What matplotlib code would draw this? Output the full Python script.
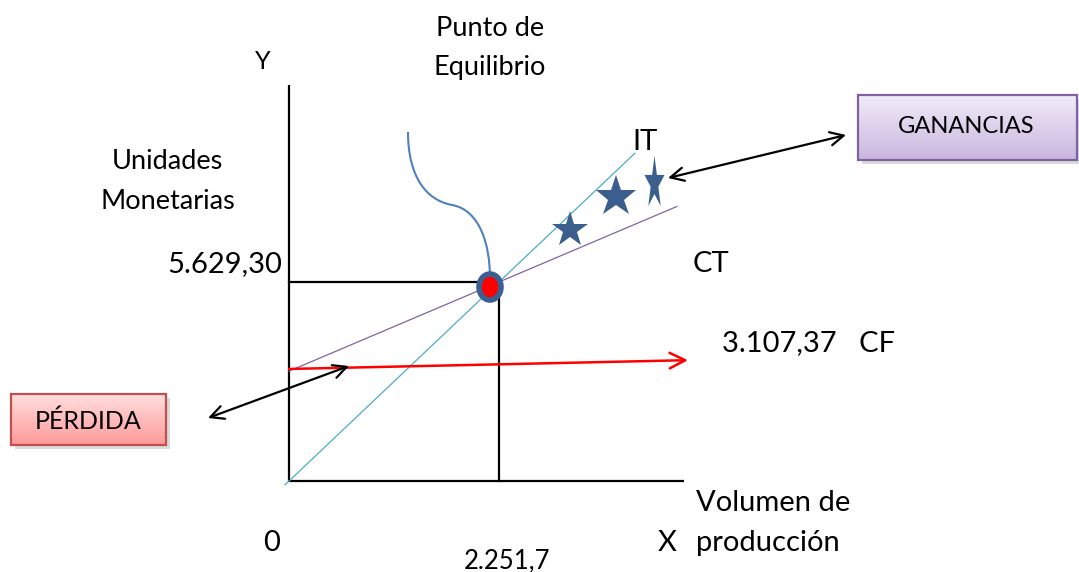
import numpy as np
import matplotlib
matplotlib.use('Agg')
import matplotlib.pyplot as plt
from matplotlib.path import Path
from matplotlib.patches import PathPatch, Rectangle, Ellipse
from matplotlib.markers import MarkerStyle

plt.rcParams['font.family'] = ['Lato', 'DejaVu Sans']

# Break-even data
BE_X = 2251.7          # volumen de producción en el punto de equilibrio
BE_Y = 5629.30         # unidades monetarias en el punto de equilibrio
CF = 3107.37           # costo fijo
PRICE = BE_Y / BE_X    # pendiente del ingreso total (IT)
CV = (BE_Y - CF) / BE_X  # costo variable unitario (pendiente de CT)

IT_X = [-43, 3709]
CT_X = [0, 4159]
STAR_X = [3012, 3505]
STAR_FRAC = [0.59, 0.58]       # position between CT and IT
STAR_SIZE = [27, 31]
TALL_STAR_X = 3913
TALL_STAR_FRAC = 0.41

W, H = 1079, 572
ORIG_PX = (289, 481)
X_PER_PX = BE_X / 210
Y_PER_PX = BE_Y / 199


def to_data(xp, yp):
    return ((xp - ORIG_PX[0]) * X_PER_PX, (ORIG_PX[1] - yp) * Y_PER_PX)


fig = plt.figure(figsize=(W / 100, H / 100), dpi=100)
ax = fig.add_axes([0, 0, 1, 1])
ax.axis('off')

colors = {
    'it': '#4bacc6',
    'ct': '#8064a2',
    'cf': '#ff0000',
    'star': '#3b5e8c',
    'curve': '#4f81bd',
}

# Axes of the diagram
y_top = to_data(289, 85)[1]
x_end = to_data(684, 481)[0]
ax.plot([0, 0], [0, y_top], color='black', lw=1.6, solid_capstyle='butt')
ax.plot([0, x_end], [0, 0], color='black', lw=1.6, solid_capstyle='butt')

# Break-even guides
ax.plot([0, BE_X], [BE_Y, BE_Y], color='black', lw=1.6)
ax.plot([BE_X, BE_X], [0, BE_Y], color='black', lw=1.6)

# IT and CT lines
it_x = np.array(IT_X, dtype=float)
ax.plot(it_x, PRICE * it_x, color=colors['it'], lw=0.9)
ct_x = np.array(CT_X, dtype=float)
ax.plot(ct_x, CF + CV * ct_x, color=colors['ct'], lw=0.9)

# CF arrow
cf_end = to_data(688, 0)[0]
ax.annotate('', xy=(cf_end, CF + 0.1 * CF), xytext=(0, CF + 0.02 * CF),
            arrowprops=dict(arrowstyle='->', color=colors['cf'], lw=1.8,
                            mutation_scale=28, shrinkA=0, shrinkB=0))

# Stars (profit area)
for sx, fr, ms in zip(STAR_X, STAR_FRAC, STAR_SIZE):
    lo, hi = CF + CV * sx, PRICE * sx
    ax.plot(sx, lo + fr * (hi - lo), marker='*', color=colors['star'],
            markersize=ms, markeredgewidth=0)
star_path = MarkerStyle('*').get_path()
tall = Path(star_path.vertices * np.array([0.38, 1.0]), star_path.codes)
lo, hi = CF + CV * TALL_STAR_X, PRICE * TALL_STAR_X
ax.plot(TALL_STAR_X, lo + TALL_STAR_FRAC * (hi - lo), marker=tall,
        color=colors['star'], markersize=40, markeredgewidth=0)

# Pointer curve to the break-even point
pts = [to_data(*p) for p in [(408, 132), (408, 175), (425, 200), (452, 205),
                             (480, 210), (490, 245), (490, 278)]]
curve = Path(pts, [Path.MOVETO] + [Path.CURVE4] * 6)
ax.add_patch(PathPatch(curve, facecolor='none', edgecolor=colors['curve'], lw=1.5))

# Break-even marker
ax.add_patch(Ellipse((BE_X - 9 * X_PER_PX, BE_Y - 5 * Y_PER_PX), 22 * X_PER_PX, 26 * Y_PER_PX,
                     facecolor='red', edgecolor='#3c5f91', lw=4, zorder=5))


def gradient_box(x0p, y0p, x1p, y1p, top, bottom, edge):
    x0, y0 = to_data(x0p, y1p)
    x1, y1 = to_data(x1p, y0p)
    sx, sy = 4 * X_PER_PX, 4 * Y_PER_PX
    ax.add_patch(Rectangle((x0 + sx, y0 - sy), x1 - x0, y1 - y0,
                           facecolor='#999999', alpha=0.35, lw=0, zorder=2))
    grad = np.linspace(0, 1, 64)[:, None]
    c0 = np.array(matplotlib.colors.to_rgb(top))
    c1 = np.array(matplotlib.colors.to_rgb(bottom))
    img = c0 + (c1 - c0) * grad[:, :, None]
    ax.imshow(img, extent=[x0, x1, y0, y1], origin='upper', aspect='auto', zorder=3)
    ax.add_patch(Rectangle((x0, y0), x1 - x0, y1 - y0, facecolor='none',
                           edgecolor=edge, lw=1.6, zorder=4))


gradient_box(858, 95, 1077, 160, '#f1ecf7', '#c9b6df', '#7f63a1')
gradient_box(11, 394, 166, 445, '#ffdede', '#ff9999', '#c0504d')

# Double arrows to boxes
for a, b in [((668, 178), (846, 135)), ((208, 418), (349, 366))]:
    ax.annotate('', xy=to_data(*b), xytext=to_data(*a),
                arrowprops=dict(arrowstyle='<->', color='black', lw=1.6,
                                mutation_scale=24, shrinkA=0, shrinkB=0))

ax.set_xlim(to_data(0, 0)[0], to_data(W, 0)[0])
ax.set_ylim(to_data(0, H)[1], to_data(0, 0)[1])

# Labels
labels = [
    ('Y', 263, 62, 18, 'center'),
    ('Punto de', 490, 28, 19.5, 'center'),
    ('Equilibrio', 490, 68, 19.5, 'center'),
    ('Unidades', 167, 162, 19.5, 'center'),
    ('Monetarias', 168, 202, 19.5, 'center'),
    ('5.629,30', 225, 264, 21, 'center'),
    ('IT', 645, 142, 21, 'center'),
    ('CT', 711, 264, 21, 'center'),
    ('3.107,37   CF', 722, 343, 21, 'left'),
    ('Volumen de', 696, 503, 21, 'left'),
    ('producción', 696, 543, 21, 'left'),
    ('X', 667, 543, 21, 'center'),
    ('0', 272, 543, 21, 'center'),
    ('2.251,7', 507, 561, 18.5, 'center'),
    ('PÉRDIDA', 88, 421, 18, 'center'),
    ('GANANCIAS', 966, 127, 17, 'center'),
]
for txt, xp, yp, size, ha in labels:
    ax.text(*to_data(xp, yp), txt, fontsize=size, ha=ha, va='center',
            color='black', zorder=6)

fig.savefig('out.png', dpi=100)
